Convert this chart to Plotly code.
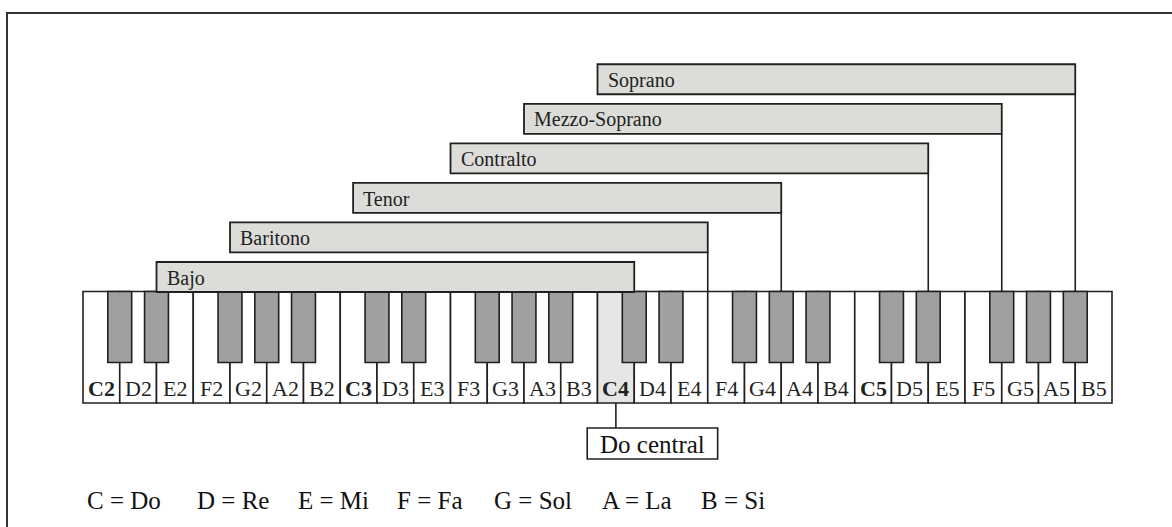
import plotly.graph_objects as go

# ---------------- data ----------------
octaves = [2, 3, 4, 5]
white_letters = ["C", "D", "E", "F", "G", "A", "B"]
sharp_letters = ["C", "D", "F", "G", "A"]          # white keys followed by a black key
bold_letter = "C"
middle_c = "C4"

voices = ["Bajo", "Baritono", "Tenor", "Contralto", "Mezzo-Soprano", "Soprano"]
# range of each voice, in white-key units counted from the left edge of C2
voice_low = [2.0, 4.0, 7.35, 10.0, 12.0, 14.0]
voice_high = [15.0, 17.0, 19.0, 23.0, 25.0, 27.0]

legend_letters = ["C", "D", "E", "F", "G", "A", "B"]
legend_names = ["Do", "Re", "Mi", "Fa", "Sol", "La", "Si"]
middle_c_label = "Do central"

# ---------------- layout constants ----------------
W, H = 1172, 527
KB_LEFT_PX, KEY_W_PX = 83.0, 36.75
KB_TOP, KB_BOT, BLACK_BOT = 291.5, 403.0, 362.5
BLACK_W = 0.65
BAR_H, BAR0_TOP, BAR_STEP = 30.0, 262.0, 39.55
DC_LEFT, DC_RIGHT, DC_TOP, DC_BOT = -0.78, 2.77, 428.0, 459.0
LEGEND_PX = [85, 195, 296, 395, 492, 600, 699]
LEGEND_Y = 500
LINE = "#231f20"
FONT = "Liberation Serif, Times New Roman, serif"

white_notes = [l + str(o) for o in octaves for l in white_letters]

shapes = []
annotations = []

# outer frame (cropped)
shapes.append(dict(type="line", xref="paper", yref="y", x0=7 / W, x1=1.0, y0=13, y1=13,
                   line=dict(color="#333333", width=2)))
shapes.append(dict(type="line", xref="paper", yref="y", x0=7 / W, x1=7 / W, y0=12, y1=H,
                   line=dict(color="#333333", width=2)))

# white keys
for i, n in enumerate(white_notes):
    fill = "#e6e6e6" if n == middle_c else "white"
    shapes.append(dict(type="rect", x0=i, x1=i + 1, y0=KB_TOP, y1=KB_BOT,
                       fillcolor=fill, line=dict(color=LINE, width=1.6), layer="above"))
    bold = n[0] == bold_letter
    annotations.append(dict(x=i + 0.5, y=388, text=("<b>%s</b>" % n) if bold else n,
                            showarrow=False, xanchor="center", yanchor="middle",
                            font=dict(family=FONT, size=22, color="#222222")))

# black keys
for i, n in enumerate(white_notes):
    if n[0] in sharp_letters:
        b = i + 1
        shapes.append(dict(type="rect", x0=b - BLACK_W / 2, x1=b + BLACK_W / 2,
                           y0=KB_TOP, y1=BLACK_BOT, fillcolor="#a0a0a0",
                           line=dict(color=LINE, width=1.6), layer="above"))

# voice ranges
for k, (name, lo, hi) in enumerate(zip(voices, voice_low, voice_high)):
    top = BAR0_TOP - k * BAR_STEP
    bot = top + BAR_H
    shapes.append(dict(type="rect", x0=lo, x1=hi, y0=top, y1=bot,
                       fillcolor="#dcdcd8", line=dict(color=LINE, width=1.8), layer="above"))
    if bot < KB_TOP:
        shapes.append(dict(type="line", x0=hi, x1=hi, y0=bot, y1=KB_TOP,
                           line=dict(color=LINE, width=1.6), layer="above"))
    annotations.append(dict(x=lo, y=top + BAR_H / 2 + 1, text=name, showarrow=False,
                            xanchor="left", yanchor="middle", xshift=8,
                            font=dict(family=FONT, size=20, color="#222222")))

# middle C marker
mc = white_notes.index(middle_c) + 0.5
shapes.append(dict(type="line", x0=mc, x1=mc, y0=KB_BOT, y1=DC_TOP,
                   line=dict(color=LINE, width=1.6)))
shapes.append(dict(type="rect", x0=mc + DC_LEFT, x1=mc + DC_RIGHT, y0=DC_TOP, y1=DC_BOT,
                   fillcolor="white", line=dict(color=LINE, width=1.6)))
annotations.append(dict(x=mc + (DC_LEFT + DC_RIGHT) / 2, y=(DC_TOP + DC_BOT) / 2 + 1,
                        text=middle_c_label, showarrow=False, xanchor="center", yanchor="middle",
                        font=dict(family=FONT, size=25, color="#111111")))

# note-name legend
for px, l, nm in zip(LEGEND_PX, legend_letters, legend_names):
    annotations.append(dict(x=(px - KB_LEFT_PX) / KEY_W_PX, y=LEGEND_Y,
                            text="%s = %s" % (l, nm), showarrow=False,
                            xanchor="left", yanchor="middle",
                            font=dict(family=FONT, size=25, color="#111111")))

fig = go.Figure()
fig.add_trace(go.Scatter(x=[0], y=[0], mode="markers", marker=dict(opacity=0),
                         hoverinfo="skip", showlegend=False))
fig.update_layout(
    width=W, height=H, margin=dict(l=0, r=0, t=0, b=0),
    paper_bgcolor="white", plot_bgcolor="white",
    xaxis=dict(range=[-KB_LEFT_PX / KEY_W_PX, (W - KB_LEFT_PX) / KEY_W_PX],
               visible=False, fixedrange=True),
    yaxis=dict(range=[H, 0], visible=False, fixedrange=True),
    shapes=shapes, annotations=annotations, showlegend=False,
)

fig.write_html("out.html", config={"displayModeBar": False, "staticPlot": True},
               post_script="document.body.style.margin='0';")
